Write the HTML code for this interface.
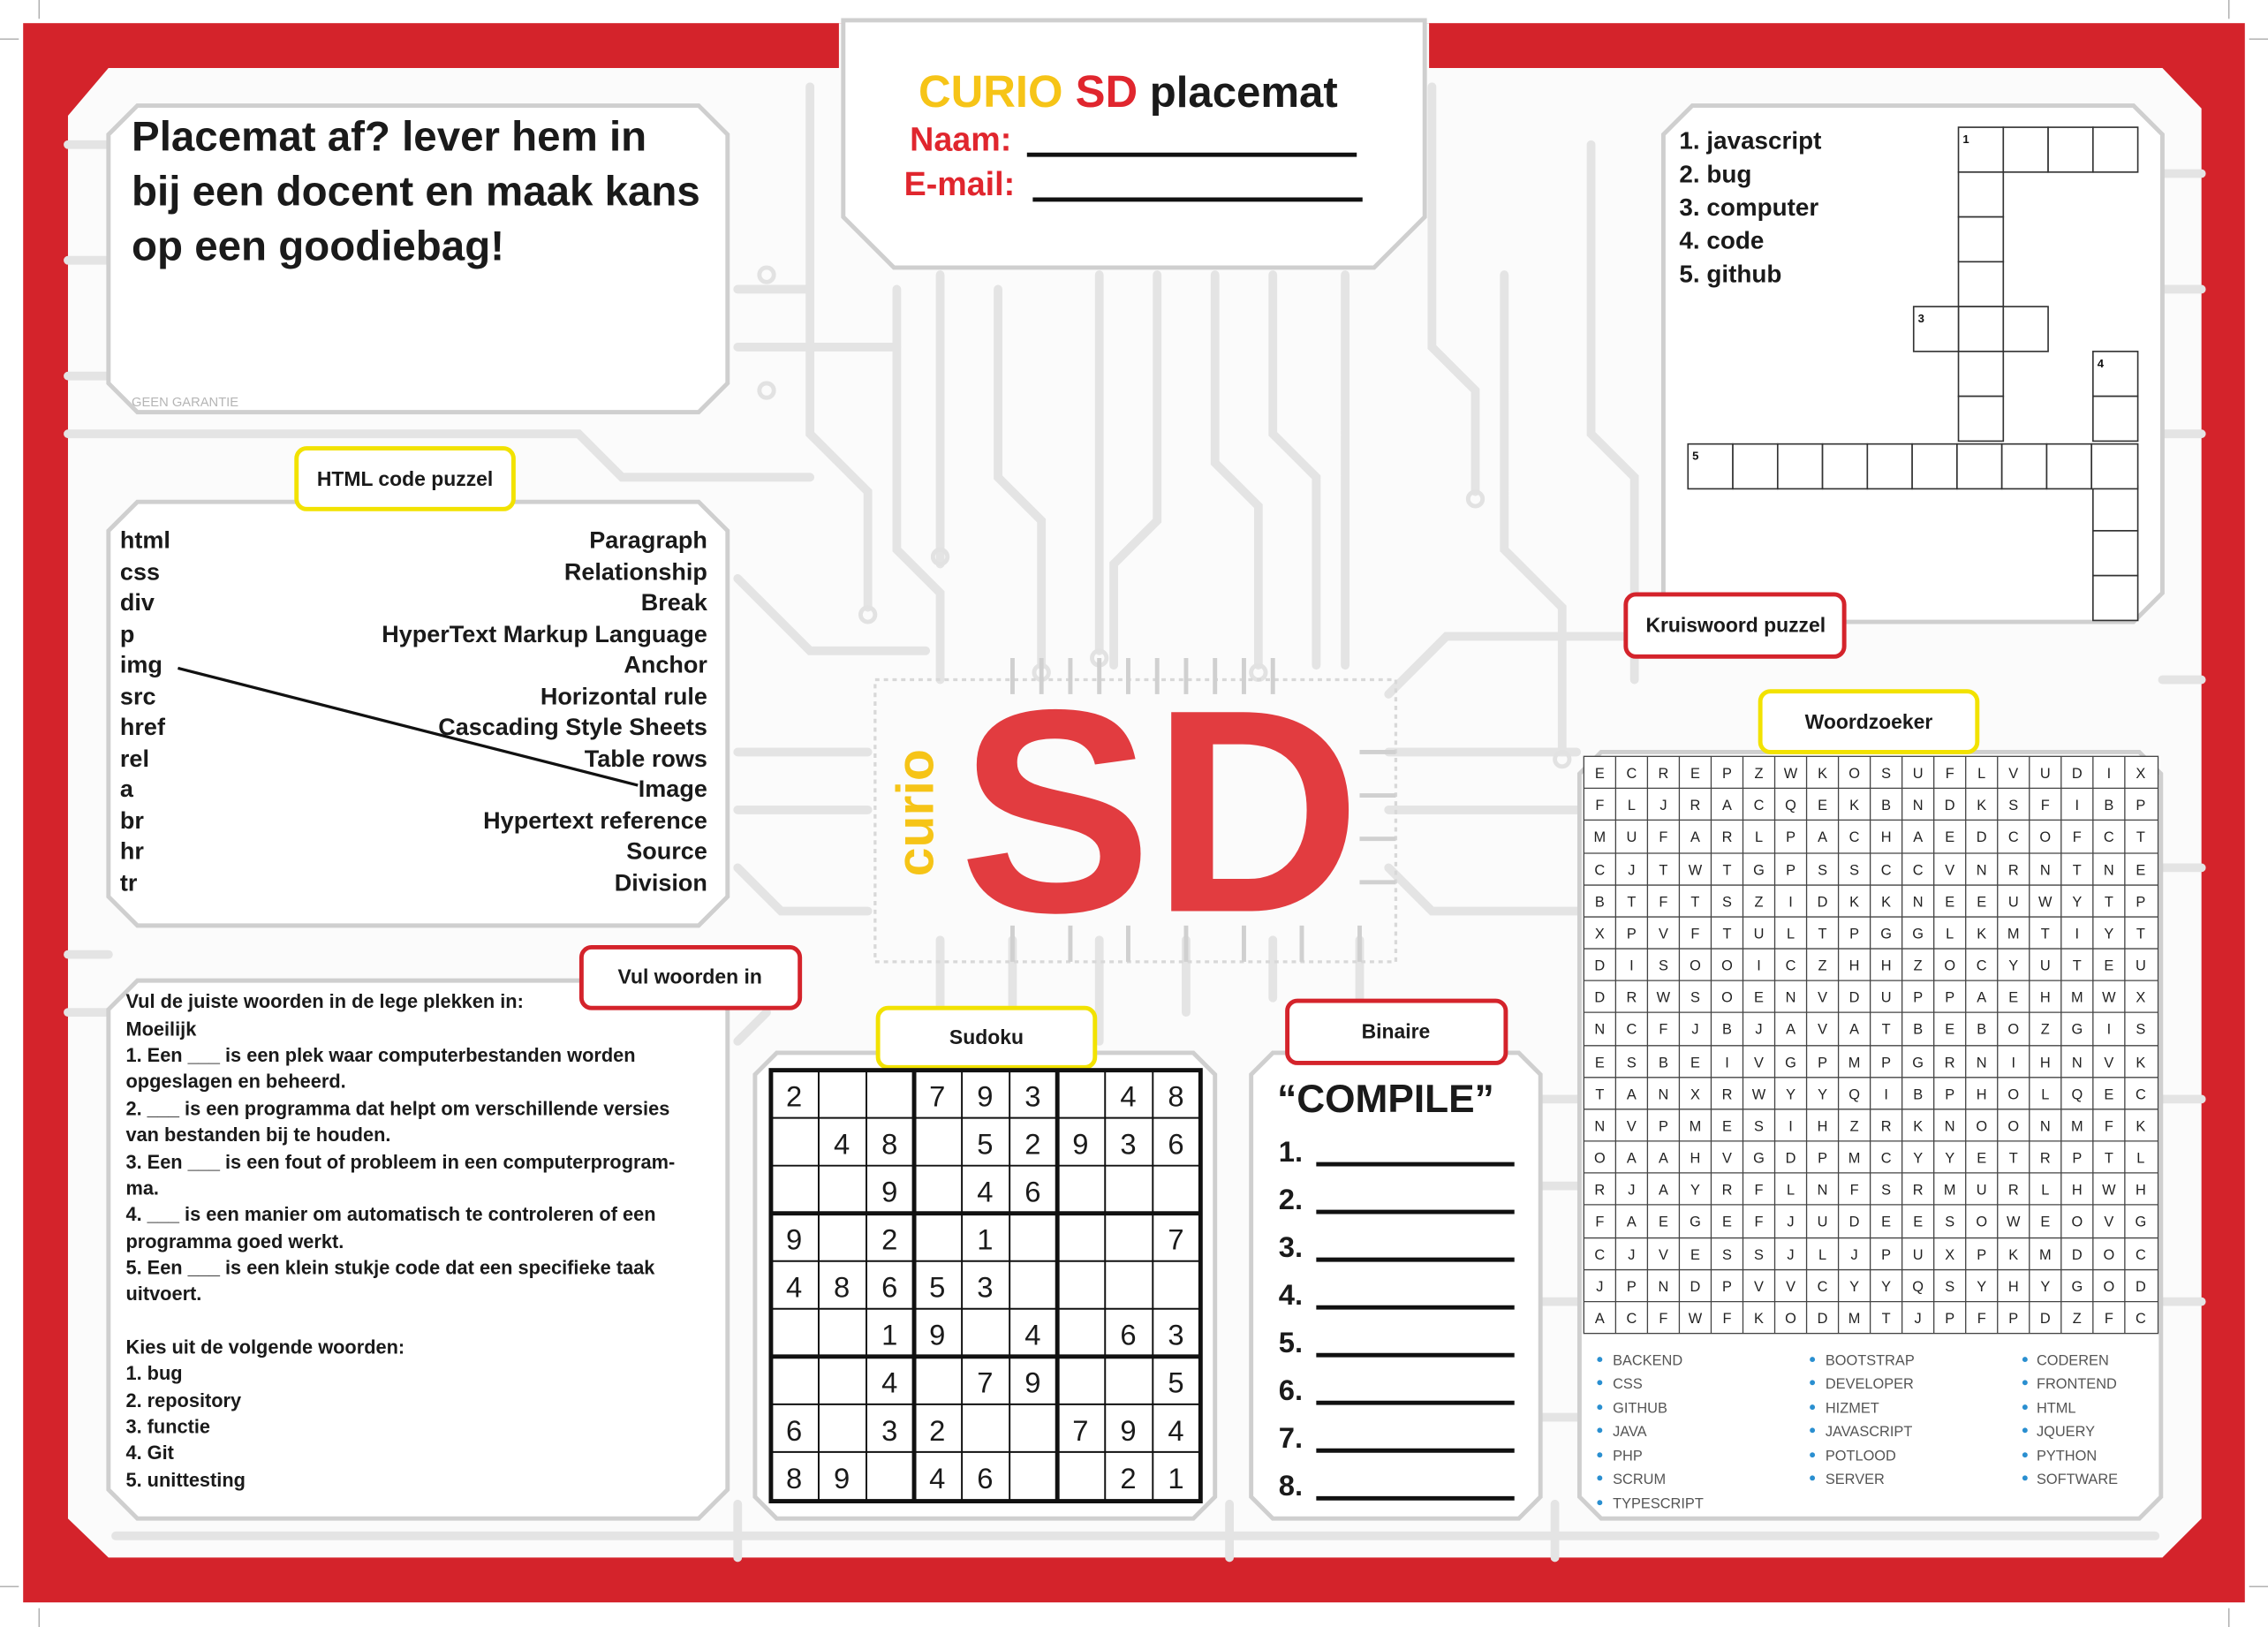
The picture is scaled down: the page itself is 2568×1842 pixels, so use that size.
<!DOCTYPE html>
<html><head><meta charset="utf-8"><style>
html,body{margin:0;padding:0;background:#fff;}
svg{display:block;}
text{font-family:"Liberation Sans",Arial,sans-serif;}
</style></head><body>
<svg width="2568" height="1842" viewBox="0 0 1568 1125" preserveAspectRatio="none" xmlns="http://www.w3.org/2000/svg">
<rect x="0" y="0" width="1568" height="1125" fill="#fff"/>
<!-- crop marks -->
<g stroke="#999" stroke-width="0.7">
<line x1="27" y1="0" x2="27" y2="13"/><line x1="0" y1="27" x2="13" y2="27"/>
<line x1="1541" y1="0" x2="1541" y2="13"/><line x1="1555" y1="27" x2="1568" y2="27"/>
<line x1="27" y1="1112" x2="27" y2="1125"/><line x1="0" y1="1097" x2="13" y2="1097"/>
<line x1="1541" y1="1112" x2="1541" y2="1125"/><line x1="1555" y1="1097" x2="1568" y2="1097"/>
</g>
<rect x="16" y="16" width="1536" height="1092" fill="#d4232b"/>
<polygon points="75,47 580,47 580,16 988,16 988,47 1495,47 1522,75 1522,1050 1495,1077 75,1077 47,1050 47,80" fill="#fbfbfb"/>
<!-- circuit background traces -->
<g stroke="#e4e4e4" stroke-width="6" fill="none" stroke-linecap="round">
<path d="M47,100 H75 M47,180 H75 M47,260 H75 M47,300 H400 L430,330 H560 M47,660 H75 M47,700 H75"/>
<path d="M560,60 V300 L600,340 V420 M620,200 V380 L650,410 V470"/>
<path d="M650,190 V390 M690,200 V330 L720,360 V460 M760,190 V450 M800,190 V360 L770,390 V460 M840,190 V320 L870,350 V460 M880,190 V300 L910,330 V460 M930,190 V460"/>
<path d="M510,200 H560 M510,240 H620 M510,400 L560,450 H640 M510,520 H600 M510,560 H600 M510,600 L540,630 H600"/>
<path d="M990,60 V240 L1020,270 V340 M1040,190 V380 L1080,420 V520 M1100,100 V300 L1130,330 V470"/>
<path d="M960,520 H1090 M960,560 H1090 M960,600 L990,630 H1090 M960,480 L1000,440 H1150"/>
<path d="M650,650 V700 M700,650 V700 M760,650 V720 M820,650 V700 M880,650 V690 M940,650 V690"/>
<path d="M510,680 H550 M510,720 L530,700 M1065,760 H1092 M1065,820 H1092 M1065,900 H1092 M1065,980 H1092"/>
<path d="M1495,120 H1522 M1495,200 H1522 M1495,300 H1522 M1495,470 H1522 M1495,600 H1522 M1495,760 H1522 M1495,900 H1522"/>
<path d="M80,1062 H1490 M510,1040 V1077 M850,1040 V1077 M1075,1040 V1077"/>
</g>
<g fill="none" stroke="#e2e2e2" stroke-width="3">
<circle cx="650" cy="385" r="5"/><circle cx="720" cy="465" r="5"/><circle cx="760" cy="455" r="5"/>
<circle cx="870" cy="465" r="5"/><circle cx="1080" cy="525" r="5"/><circle cx="1020" cy="345" r="5"/>
<circle cx="600" cy="425" r="5"/><circle cx="530" cy="190" r="5"/><circle cx="530" cy="270" r="5"/>
</g>
<!-- boxes -->
<g fill="#fff" stroke="#cfcfcf" stroke-width="3">
<polygon points="95,73 483,73 503,93 503,265 483,285 95,285 75,265 75,93"/>
<polygon points="95,347 483,347 503,367 503,620 483,640 95,640 75,620 75,367"/>
<polygon points="95,678 483,678 503,698 503,1030 483,1050 95,1050 75,1030 75,698"/>
<polygon points="537,728 825,728 840,743 840,1035 825,1050 537,1050 522,1035 522,743"/>
<polygon points="880,728 1050,728 1065,743 1065,1035 1050,1050 880,1050 865,1035 865,743"/>
<polygon points="1170,73 1475,73 1495,93 1495,410 1475,430 1170,430 1150,410 1150,93"/>
<polygon points="1107,520 1479,520 1494,535 1494,1035 1479,1050 1107,1050 1092,1035 1092,535"/>
<polygon points="583,14 985,14 985,150 950,185 618,185 583,150"/>
</g>
<!-- box 1 -->
<g font-weight="bold" font-size="29" fill="#1a1a1a">
<text x="91" y="104">Placemat af? lever hem in</text>
<text x="91" y="142">bij een docent en maak kans</text>
<text x="91" y="180">op een goodiebag!</text>
</g>
<text x="91" y="281" font-size="9" fill="#b5b5b5">GEEN GARANTIE</text>
<!-- header -->
<text x="635" y="74" font-size="31" font-weight="bold"><tspan fill="#f6c417">CURIO</tspan><tspan fill="#e0262e"> SD</tspan><tspan fill="#1a1a1a" font-size="30"> placemat</tspan></text>
<text x="629" y="104" font-size="23" font-weight="bold" fill="#e0262e">Naam:</text>
<line x1="710" y1="107" x2="938" y2="107" stroke="#111" stroke-width="3"/>
<text x="625" y="135" font-size="23" font-weight="bold" fill="#e0262e">E-mail:</text>
<line x1="714" y1="138" x2="942" y2="138" stroke="#111" stroke-width="3"/>
<!-- labels -->
<g fill="#fff" stroke-width="3">
<rect x="205" y="310" width="150" height="42" rx="7" stroke="#f2e200"/>
<rect x="402" y="655" width="151" height="42" rx="7" stroke="#d4232b"/>
<rect x="607" y="697" width="150" height="41" rx="7" stroke="#f2e200"/>
<rect x="890" y="692" width="151" height="43" rx="7" stroke="#d4232b"/>
<rect x="1124" y="411" width="151" height="43" rx="7" stroke="#d4232b"/>
<rect x="1217" y="478" width="150" height="42" rx="7" stroke="#f2e200"/>
</g>
<g font-size="14" font-weight="bold" fill="#1a1a1a" text-anchor="middle">
<text x="280" y="336">HTML code puzzel</text>
<text x="477" y="680">Vul woorden in</text>
<text x="682" y="722">Sudoku</text>
<text x="965" y="718">Binaire</text>
<text x="1200" y="437">Kruiswoord puzzel</text>
<text x="1292" y="504">Woordzoeker</text>
</g>
<!-- HTML puzzle -->
<g font-size="16.5" font-weight="bold" fill="#1a1a1a">
<text x="83" y="379">html</text><text x="83" y="401">css</text><text x="83" y="422">div</text><text x="83" y="444">p</text><text x="83" y="465">img</text><text x="83" y="487">src</text><text x="83" y="508">href</text><text x="83" y="530">rel</text><text x="83" y="551">a</text><text x="83" y="573">br</text><text x="83" y="594">hr</text><text x="83" y="616">tr</text>
</g>
<g font-size="16.5" font-weight="bold" fill="#1a1a1a" text-anchor="end">
<text x="489" y="379">Paragraph</text><text x="489" y="401">Relationship</text><text x="489" y="422">Break</text><text x="489" y="444">HyperText Markup Language</text><text x="489" y="465">Anchor</text><text x="489" y="487">Horizontal rule</text><text x="489" y="508">Cascading Style Sheets</text><text x="489" y="530">Table rows</text><text x="489" y="551">Image</text><text x="489" y="573">Hypertext reference</text><text x="489" y="594">Source</text><text x="489" y="616">Division</text>
</g>
<line x1="123" y1="462" x2="441" y2="543" stroke="#111" stroke-width="2"/>
<!-- Vul woorden in -->
<g font-size="13.3" font-weight="bold" fill="#1a1a1a">
<text x="87" y="697">Vul de juiste woorden in de lege plekken in:</text>
<text x="87" y="716">Moeilijk</text>
<text x="87" y="734">1. Een ___ is een plek waar computerbestanden worden</text>
<text x="87" y="752">opgeslagen en beheerd.</text>
<text x="87" y="771">2. ___ is een programma dat helpt om verschillende versies</text>
<text x="87" y="789">van bestanden bij te houden.</text>
<text x="87" y="808">3. Een ___ is een fout of probleem in een computerprogram-</text>
<text x="87" y="826">ma.</text>
<text x="87" y="844">4. ___ is een manier om automatisch te controleren of een</text>
<text x="87" y="863">programma goed werkt.</text>
<text x="87" y="881">5. Een ___ is een klein stukje code dat een specifieke taak</text>
<text x="87" y="899">uitvoert.</text>
<text x="87" y="936">Kies uit de volgende woorden:</text>
<text x="87" y="954">1. bug</text>
<text x="87" y="973">2. repository</text>
<text x="87" y="991">3. functie</text>
<text x="87" y="1009">4. Git</text>
<text x="87" y="1028">5. unittesting</text>
</g>
<!-- Sudoku -->
<g stroke="#111" stroke-width="1.2">
<line x1="566" y1="740" x2="566" y2="1038"/><line x1="599" y1="740" x2="599" y2="1038"/>
<line x1="665" y1="740" x2="665" y2="1038"/><line x1="698" y1="740" x2="698" y2="1038"/>
<line x1="764" y1="740" x2="764" y2="1038"/><line x1="797" y1="740" x2="797" y2="1038"/>
<line x1="533" y1="773" x2="830" y2="773"/><line x1="533" y1="806" x2="830" y2="806"/>
<line x1="533" y1="872" x2="830" y2="872"/><line x1="533" y1="905" x2="830" y2="905"/>
<line x1="533" y1="971" x2="830" y2="971"/><line x1="533" y1="1004" x2="830" y2="1004"/>
</g>
<g stroke="#111" stroke-width="3" fill="none">
<rect x="533" y="740" width="297" height="298"/>
<line x1="632" y1="740" x2="632" y2="1038"/><line x1="731" y1="740" x2="731" y2="1038"/>
<line x1="533" y1="839" x2="830" y2="839"/><line x1="533" y1="938" x2="830" y2="938"/>
</g>
<g font-size="20" fill="#1a1a1a" text-anchor="middle">
<text y="765"><tspan x="549">2</tspan><tspan x="648">7</tspan><tspan x="681">9</tspan><tspan x="714">3</tspan><tspan x="780">4</tspan><tspan x="813">8</tspan></text>
<text y="798"><tspan x="582">4</tspan><tspan x="615">8</tspan><tspan x="681">5</tspan><tspan x="714">2</tspan><tspan x="747">9</tspan><tspan x="780">3</tspan><tspan x="813">6</tspan></text>
<text y="831"><tspan x="615">9</tspan><tspan x="681">4</tspan><tspan x="714">6</tspan></text>
<text y="864"><tspan x="549">9</tspan><tspan x="615">2</tspan><tspan x="681">1</tspan><tspan x="813">7</tspan></text>
<text y="897"><tspan x="549">4</tspan><tspan x="582">8</tspan><tspan x="615">6</tspan><tspan x="648">5</tspan><tspan x="681">3</tspan></text>
<text y="930"><tspan x="615">1</tspan><tspan x="648">9</tspan><tspan x="714">4</tspan><tspan x="780">6</tspan><tspan x="813">3</tspan></text>
<text y="963"><tspan x="615">4</tspan><tspan x="681">7</tspan><tspan x="714">9</tspan><tspan x="813">5</tspan></text>
<text y="996"><tspan x="549">6</tspan><tspan x="615">3</tspan><tspan x="648">2</tspan><tspan x="747">7</tspan><tspan x="780">9</tspan><tspan x="813">4</tspan></text>
<text y="1029"><tspan x="549">8</tspan><tspan x="582">9</tspan><tspan x="648">4</tspan><tspan x="681">6</tspan><tspan x="780">2</tspan><tspan x="813">1</tspan></text>
</g>
<!-- Binaire -->
<text x="883" y="769" font-size="27" font-weight="bold" fill="#1a1a1a">“COMPILE”</text>
<g font-size="20" font-weight="bold" fill="#1a1a1a">
<text x="884" y="803">1.</text><text x="884" y="836">2.</text><text x="884" y="869">3.</text><text x="884" y="902">4.</text><text x="884" y="935">5.</text><text x="884" y="968">6.</text><text x="884" y="1001">7.</text><text x="884" y="1034">8.</text>
</g>
<g stroke="#111" stroke-width="3">
<line x1="910" y1="805" x2="1047" y2="805"/><line x1="910" y1="838" x2="1047" y2="838"/><line x1="910" y1="871" x2="1047" y2="871"/><line x1="910" y1="904" x2="1047" y2="904"/><line x1="910" y1="937" x2="1047" y2="937"/><line x1="910" y1="970" x2="1047" y2="970"/><line x1="910" y1="1003" x2="1047" y2="1003"/><line x1="910" y1="1036" x2="1047" y2="1036"/>
</g>
<!-- Crossword -->
<g font-size="17" font-weight="bold" fill="#1a1a1a">
<text x="1161" y="103">1. javascript</text><text x="1161" y="126">2. bug</text><text x="1161" y="149">3. computer</text><text x="1161" y="172">4. code</text><text x="1161" y="195">5. github</text>
</g>
<g fill="#fff" stroke="#333" stroke-width="1">
<rect x="1354" y="88" width="31" height="31"/><rect x="1385" y="88" width="31" height="31"/><rect x="1416" y="88" width="31" height="31"/><rect x="1447" y="88" width="31" height="31"/>
<rect x="1354" y="119" width="31" height="31"/><rect x="1354" y="150" width="31" height="31"/><rect x="1354" y="181" width="31" height="31"/><rect x="1354" y="212" width="31" height="31"/><rect x="1354" y="243" width="31" height="31"/><rect x="1354" y="274" width="31" height="31"/>
<rect x="1323" y="212" width="31" height="31"/><rect x="1385" y="212" width="31" height="31"/>
<rect x="1447" y="243" width="31" height="31"/><rect x="1447" y="274" width="31" height="31"/><rect x="1447" y="336" width="31" height="31"/><rect x="1447" y="367" width="31" height="31"/><rect x="1447" y="398" width="31" height="31"/>
<rect x="1167" y="307" width="31" height="31"/><rect x="1198" y="307" width="31" height="31"/><rect x="1229" y="307" width="31" height="31"/><rect x="1260" y="307" width="31" height="31"/><rect x="1291" y="307" width="31" height="31"/><rect x="1322" y="307" width="31" height="31"/><rect x="1353" y="307" width="31" height="31"/><rect x="1384" y="307" width="31" height="31"/><rect x="1415" y="307" width="31" height="31"/><rect x="1446" y="307" width="32" height="31"/>
</g>
<g font-size="8" font-weight="bold" fill="#111">
<text x="1357" y="99">1</text><text x="1326" y="223">3</text><text x="1450" y="254">4</text><text x="1170" y="318">5</text>
</g>
<!-- Word search -->
<g stroke="#444" stroke-width="0.8">
<rect x="1095" y="523" width="397" height="399" fill="#fff"/>
<path d="M1117,523V922M1139,523V922M1161,523V922M1183,523V922M1205,523V922M1227,523V922M1249,523V922M1271,523V922M1293,523V922M1315,523V922M1337,523V922M1359,523V922M1381,523V922M1403,523V922M1425,523V922M1447,523V922M1469,523V922"/>
<path d="M1095,545H1492M1095,567H1492M1095,590H1492M1095,612H1492M1095,634H1492M1095,656H1492M1095,678H1492M1095,700H1492M1095,723H1492M1095,745H1492M1095,767H1492M1095,789H1492M1095,811H1492M1095,833H1492M1095,856H1492M1095,878H1492M1095,900H1492"/>
</g>
<g font-size="10" fill="#222" text-anchor="middle">
<text x="1106 1128 1150 1172 1194 1216 1238 1260 1282 1304 1326 1348 1370 1392 1414 1436 1458 1480" y="538">ECREPZWKOSUFLVUDIX</text>
<text x="1106 1128 1150 1172 1194 1216 1238 1260 1282 1304 1326 1348 1370 1392 1414 1436 1458 1480" y="560">FLJRACQEKBNDKSFIBP</text>
<text x="1106 1128 1150 1172 1194 1216 1238 1260 1282 1304 1326 1348 1370 1392 1414 1436 1458 1480" y="582">MUFARLPACHAEDCOFCT</text>
<text x="1106 1128 1150 1172 1194 1216 1238 1260 1282 1304 1326 1348 1370 1392 1414 1436 1458 1480" y="605">CJTWTGPSSCCVNRNTNE</text>
<text x="1106 1128 1150 1172 1194 1216 1238 1260 1282 1304 1326 1348 1370 1392 1414 1436 1458 1480" y="627">BTFTSZIDKKNEEUWYTP</text>
<text x="1106 1128 1150 1172 1194 1216 1238 1260 1282 1304 1326 1348 1370 1392 1414 1436 1458 1480" y="649">XPVFTULTPGGLKMTIYT</text>
<text x="1106 1128 1150 1172 1194 1216 1238 1260 1282 1304 1326 1348 1370 1392 1414 1436 1458 1480" y="671">DISOOICZHHZOCYUTEU</text>
<text x="1106 1128 1150 1172 1194 1216 1238 1260 1282 1304 1326 1348 1370 1392 1414 1436 1458 1480" y="693">DRWSOENVDUPPAEHMWX</text>
<text x="1106 1128 1150 1172 1194 1216 1238 1260 1282 1304 1326 1348 1370 1392 1414 1436 1458 1480" y="715">NCFJBJAVATBEBOZGIS</text>
<text x="1106 1128 1150 1172 1194 1216 1238 1260 1282 1304 1326 1348 1370 1392 1414 1436 1458 1480" y="738">ESBEIVGPMPGRNIHNVK</text>
<text x="1106 1128 1150 1172 1194 1216 1238 1260 1282 1304 1326 1348 1370 1392 1414 1436 1458 1480" y="760">TANXRWYYQIBPHOLQEC</text>
<text x="1106 1128 1150 1172 1194 1216 1238 1260 1282 1304 1326 1348 1370 1392 1414 1436 1458 1480" y="782">NVPMESIHZRKNOONMFK</text>
<text x="1106 1128 1150 1172 1194 1216 1238 1260 1282 1304 1326 1348 1370 1392 1414 1436 1458 1480" y="804">OAAHVGDPMCYYETRPTL</text>
<text x="1106 1128 1150 1172 1194 1216 1238 1260 1282 1304 1326 1348 1370 1392 1414 1436 1458 1480" y="826">RJAYRFLNFSRMURLHWH</text>
<text x="1106 1128 1150 1172 1194 1216 1238 1260 1282 1304 1326 1348 1370 1392 1414 1436 1458 1480" y="848">FAEGEFJUDEESOWEOVG</text>
<text x="1106 1128 1150 1172 1194 1216 1238 1260 1282 1304 1326 1348 1370 1392 1414 1436 1458 1480" y="871">CJVESSJLJPUXPKMDOC</text>
<text x="1106 1128 1150 1172 1194 1216 1238 1260 1282 1304 1326 1348 1370 1392 1414 1436 1458 1480" y="893">JPNDPVVCYYQSYHYGOD</text>
<text x="1106 1128 1150 1172 1194 1216 1238 1260 1282 1304 1326 1348 1370 1392 1414 1436 1458 1480" y="915">ACFWFKODMTJPFPDZFC</text>
</g>
<g fill="#2a8fd0">
<circle cx="1106" cy="940" r="1.8"/><circle cx="1106" cy="956" r="1.8"/><circle cx="1106" cy="973" r="1.8"/><circle cx="1106" cy="989" r="1.8"/><circle cx="1106" cy="1006" r="1.8"/><circle cx="1106" cy="1022" r="1.8"/><circle cx="1106" cy="1039" r="1.8"/>
<circle cx="1253" cy="940" r="1.8"/><circle cx="1253" cy="956" r="1.8"/><circle cx="1253" cy="973" r="1.8"/><circle cx="1253" cy="989" r="1.8"/><circle cx="1253" cy="1006" r="1.8"/><circle cx="1253" cy="1022" r="1.8"/>
<circle cx="1400" cy="940" r="1.8"/><circle cx="1400" cy="956" r="1.8"/><circle cx="1400" cy="973" r="1.8"/><circle cx="1400" cy="989" r="1.8"/><circle cx="1400" cy="1006" r="1.8"/><circle cx="1400" cy="1022" r="1.8"/>
</g>
<g font-size="10" fill="#555">
<text x="1115" y="944">BACKEND</text><text x="1115" y="960">CSS</text><text x="1115" y="977">GITHUB</text><text x="1115" y="993">JAVA</text><text x="1115" y="1010">PHP</text><text x="1115" y="1026">SCRUM</text><text x="1115" y="1043">TYPESCRIPT</text>
<text x="1262" y="944">BOOTSTRAP</text><text x="1262" y="960">DEVELOPER</text><text x="1262" y="977">HIZMET</text><text x="1262" y="993">JAVASCRIPT</text><text x="1262" y="1010">POTLOOD</text><text x="1262" y="1026">SERVER</text>
<text x="1408" y="944">CODEREN</text><text x="1408" y="960">FRONTEND</text><text x="1408" y="977">HTML</text><text x="1408" y="993">JQUERY</text><text x="1408" y="1010">PYTHON</text><text x="1408" y="1026">SOFTWARE</text>
</g>
<!-- center logo -->
<g stroke="#d8d8d8" stroke-width="2" fill="none" stroke-dasharray="3 3">
<rect x="605" y="470" width="360" height="195"/>
</g>
<g stroke="#d0d0d0" stroke-width="3" fill="none">
<path d="M700,455V480M720,455V480M740,455V480M760,455V480M780,455V480M800,455V480M820,455V480M840,455V480M860,455V480M880,455V480"/>
<path d="M700,640V665M740,640V665M780,640V665M820,640V665M860,640V665M900,640V665M940,640V665"/>
<path d="M940,520H965M940,550H965M940,580H965M940,610H965"/>
</g>
<text x="663" y="630" font-size="200" font-weight="bold" fill="#e23c40">SD</text>
<text transform="translate(645,562) rotate(-90)" text-anchor="middle" font-size="36" font-weight="bold" fill="#f6c417">curio</text>
</svg>
</body></html>
